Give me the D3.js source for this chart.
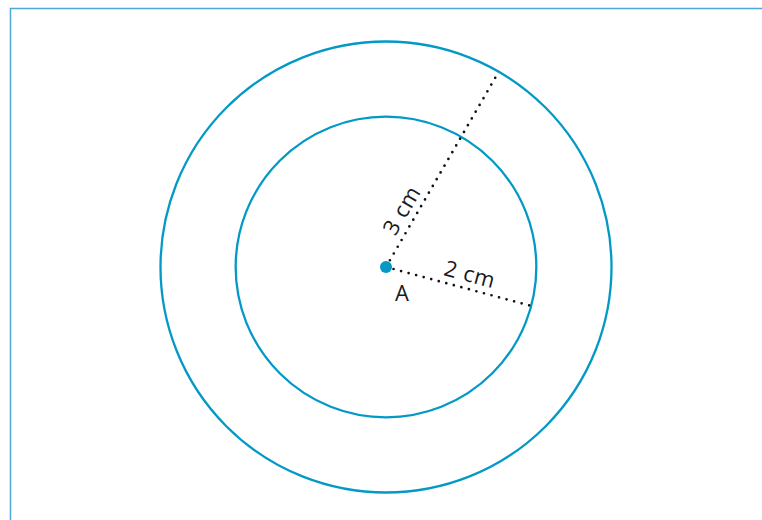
<!DOCTYPE html>
<html>
<head>
<meta charset="utf-8">
<script src="https://cdnjs.cloudflare.com/ajax/libs/d3/7.8.5/d3.min.js"></script>
<style>
  body { margin: 0; background: #fff; }
  text { font-family: "Open Sans", "Lato", sans-serif; fill: #1a1a1a; }
</style>
</head>
<body>
<script>
// circle radii in cm, and the angle (degrees, counter-clockwise) of each radius line
const radii = [3, 2];
const radiusAngles = [60, -15];
const radiusLabels = ["3 cm", "2 cm"];
const centreLabel = "A";

const w = 762, h = 520;
const cx = 386, cy = 267;
const blue = "#0399c6";

const rScale = d3.scaleLinear().domain([0, 3]).range([0, 225.5]);

const svg = d3.select("body").append("svg")
  .attr("width", w)
  .attr("height", h);

// frame lines top / left
svg.append("path")
  .attr("d", "M10.5," + h + " L10.5,8.5 L" + w + ",8.5")
  .attr("fill", "none")
  .attr("stroke", "#4ea7d6")
  .attr("stroke-width", 1.5);

const g = svg.append("g").attr("transform", "translate(" + cx + "," + cy + ")");

g.selectAll("circle.ring")
  .data(radii)
  .enter()
  .append("circle")
  .attr("class", "ring")
  .attr("r", d => rScale(d))
  .attr("fill", "none")
  .attr("stroke", blue)
  .attr("stroke-width", 2.3);

const rad = a => a * Math.PI / 180;

g.selectAll("line.radius")
  .data(radii)
  .enter()
  .append("line")
  .attr("class", "radius")
  .attr("x1", 0).attr("y1", 0)
  .attr("x2", (d, i) => rScale(d) * Math.cos(rad(radiusAngles[i])))
  .attr("y2", (d, i) => -rScale(d) * Math.sin(rad(radiusAngles[i])))
  .attr("stroke", "#111")
  .attr("stroke-width", 2.7)
  .attr("stroke-linecap", "round")
  .attr("stroke-dasharray", "0 7.8");

// labels along each radius
const labelPos = [57, 83];
g.selectAll("text.rlabel")
  .data(radii)
  .enter()
  .append("text")
  .attr("class", "rlabel")
  .attr("text-anchor", "middle")
  .attr("font-size", 22)
  .attr("letter-spacing", 0.8)
  .attr("transform", (d, i) => {
    const a = radiusAngles[i];
    const x = labelPos[i] * Math.cos(rad(a));
    const y = -labelPos[i] * Math.sin(rad(a));
    return "translate(" + x + "," + y + ") rotate(" + (-a) + ") translate(0,-7)";
  })
  .text((d, i) => radiusLabels[i]);

g.append("circle")
  .attr("r", 6)
  .attr("fill", blue);

g.append("text")
  .attr("x", 16)
  .attr("y", 34)
  .attr("text-anchor", "middle")
  .attr("font-size", 22)
  .text(centreLabel);
</script>
</body>
</html>
